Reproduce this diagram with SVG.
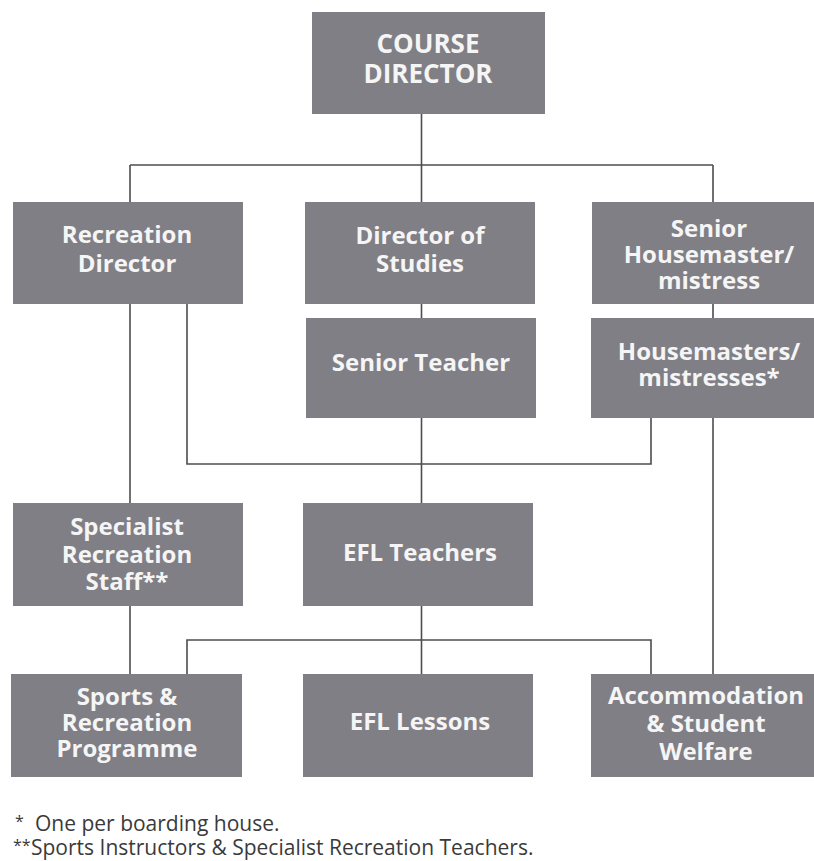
<svg xmlns="http://www.w3.org/2000/svg" width="814" height="861" viewBox="0 0 814 861">
<style>
.box{fill:#807f85}
.lbl{font-family:"Open Sans","Liberation Sans",sans-serif;font-weight:bold;font-size:24px;fill:#f5f5f5;text-anchor:middle}
.big{font-size:26px}
.con{fill:none;stroke:#4d4d4d;stroke-width:1.6}
.note{font-family:"Open Sans","Liberation Sans",sans-serif;font-size:21px;fill:#3a3a3a}
.ast{font-size:16px}
</style>
<rect width="814" height="861" fill="#ffffff"/>
<g id="connectors">
<path class="con" d="M421.5,114 V165 M130,165 H713 M130,165 V202 M421.5,165 V202 M713,165 V202"/>
<path class="con" d="M421.5,304 V318 M713,304 V318"/>
<path class="con" d="M130,304 V503"/>
<path class="con" d="M187,304 V464 H651 V418"/>
<path class="con" d="M421.5,418 V503"/>
<path class="con" d="M713,418 V674"/>
<path class="con" d="M130,606 V674"/>
<path class="con" d="M421.5,606 V674"/>
<path class="con" d="M187,674 V640 H651 V674"/>
</g>
<g id="course-director">
<rect class="box" x="312" y="12" width="233" height="102"/>
<text class="lbl big" x="428" y="53">COURSE</text>
<text class="lbl big" x="428" y="83">DIRECTOR</text>
</g>
<g id="recreation-director">
<rect class="box" x="13" y="202" width="230" height="102"/>
<text class="lbl" x="127" y="243">Recreation</text>
<text class="lbl" x="127" y="272">Director</text>
</g>
<g id="director-of-studies">
<rect class="box" x="305" y="202" width="230" height="102"/>
<text class="lbl" x="420" y="244">Director of</text>
<text class="lbl" x="420" y="272">Studies</text>
</g>
<g id="senior-housemaster">
<rect class="box" x="592" y="202" width="222" height="102"/>
<text class="lbl" x="709" y="237">Senior</text>
<text class="lbl" x="709" y="263">Housemaster/</text>
<text class="lbl" x="709" y="289">mistress</text>
</g>
<g id="senior-teacher">
<rect class="box" x="306" y="318" width="230" height="100"/>
<text class="lbl" x="421" y="371">Senior Teacher</text>
</g>
<g id="housemasters">
<rect class="box" x="591" y="318" width="223" height="100"/>
<text class="lbl" x="709" y="360">Housemasters/</text>
<text class="lbl" x="709" y="386">mistresses*</text>
</g>
<g id="specialist-staff">
<rect class="box" x="13" y="503" width="230" height="103"/>
<text class="lbl" x="127" y="535">Specialist</text>
<text class="lbl" x="127" y="563">Recreation</text>
<text class="lbl" x="127" y="590">Staff**</text>
</g>
<g id="efl-teachers">
<rect class="box" x="303" y="503" width="230" height="103"/>
<text class="lbl" x="420" y="561">EFL Teachers</text>
</g>
<g id="sports-programme">
<rect class="box" x="11" y="674" width="231" height="103"/>
<text class="lbl" x="127" y="705">Sports &amp;</text>
<text class="lbl" x="127" y="731">Recreation</text>
<text class="lbl" x="127" y="757">Programme</text>
</g>
<g id="efl-lessons">
<rect class="box" x="303" y="674" width="230" height="103"/>
<text class="lbl" x="420" y="730">EFL Lessons</text>
</g>
<g id="accommodation">
<rect class="box" x="591" y="674" width="223" height="103"/>
<text class="lbl" x="706" y="704">Accommodation</text>
<text class="lbl" x="706" y="732">&amp; Student</text>
<text class="lbl" x="706" y="760">Welfare</text>
</g>
<g id="footnotes">
<text class="note" x="15" y="831"><tspan class="ast" dy="-4">*</tspan><tspan x="35" dy="4">One per boarding house.</tspan></text>
<text class="note" x="13" y="855"><tspan class="ast" dy="-4">**</tspan><tspan x="31" dy="4">Sports Instructors &amp; Specialist Recreation Teachers.</tspan></text>
</g>
</svg>
